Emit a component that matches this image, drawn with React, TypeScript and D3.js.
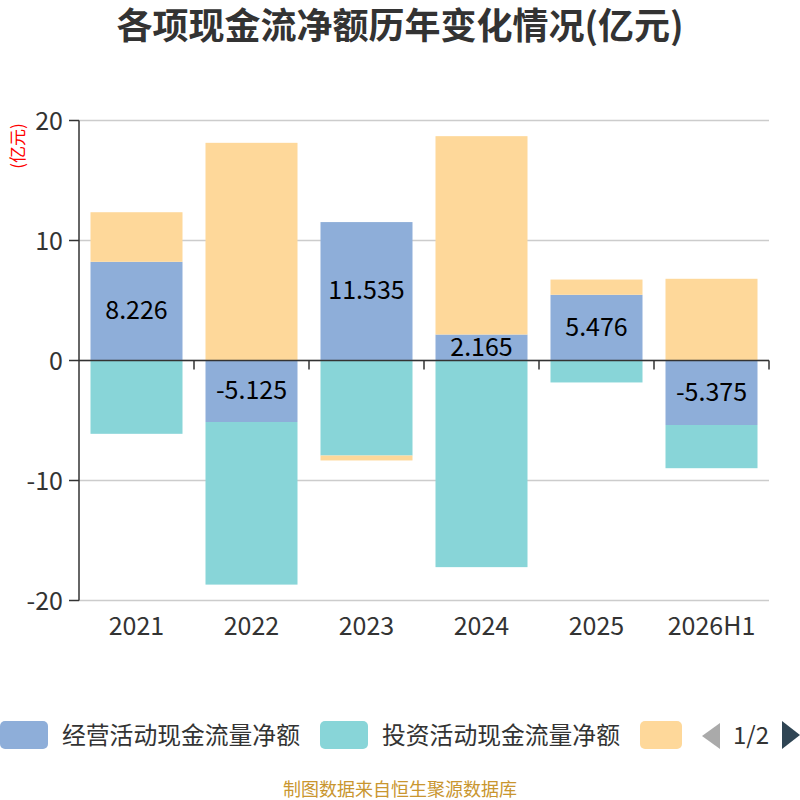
import React, { useEffect, useRef } from 'react';
import * as d3 from 'd3';

const categories = ['2021', '2022', '2023', '2024', '2025', '2026H1'];
const operating = [8.226, -5.125, 11.535, 2.165, 5.476, -5.375];
const investing = [-6.11, -13.55, -7.92, -17.22, -1.83, -3.6];
const financing = [4.13, 18.14, -0.41, 16.53, 1.27, 6.81];
const seriesNames = ['经营活动现金流量净额', '投资活动现金流量净额', '筹资活动现金流量净额'];
const yTicks = [-20, -10, 0, 10, 20];

const colors = ['#8eaed9', '#88d5d8', '#fed89a'];
const FONT = '"Noto Sans CJK SC", "Noto Sans", sans-serif';

export default function App() {
    const svgRef = useRef<SVGSVGElement>(null);

    useEffect(() => {
        if (!svgRef.current) return;
        const svg = d3.select(svgRef.current);
        svg.selectAll('*').remove();

        const left = 79, right = 769, top = 120.5, bottom = 600.5;

        const x = d3.scaleBand<string>()
            .domain(categories)
            .range([left, right])
            .paddingInner(0.2)
            .paddingOuter(0.1);

        const y = d3.scaleLinear().domain([-20, 20]).range([bottom, top]);

        const rows = categories.map((c, i) => ({
            cat: c,
            op: operating[i],
            inv: investing[i],
            fin: financing[i],
        }));

        // positive values stack upwards, negative downwards, like echarts
        const stacked = d3.stack<any>()
            .keys(['op', 'inv', 'fin'])
            .offset(d3.stackOffsetDiverging)(rows);

        // Title
        svg.append('text')
            .attr('x', 400)
            .attr('y', 26)
            .attr('dy', '0.36em')
            .attr('text-anchor', 'middle')
            .attr('font-size', 36)
            .attr('font-weight', 'bold')
            .attr('fill', '#333')
            .text('各项现金流净额历年变化情况(亿元)');

        // Unit label
        svg.append('text')
            .attr('transform', 'translate(18,146) rotate(-90)')
            .attr('text-anchor', 'middle')
            .attr('dy', '0.36em')
            .attr('font-size', 17)
            .attr('fill', '#ff0000')
            .text('(亿元)');

        // Grid lines
        svg.append('g')
            .selectAll('line')
            .data(yTicks)
            .join('line')
            .attr('x1', left)
            .attr('x2', right)
            .attr('y1', d => y(d))
            .attr('y2', d => y(d))
            .attr('stroke', '#cccccc')
            .attr('stroke-width', 1.5);

        // Bars
        stacked.forEach((layer, si) => {
            svg.append('g')
                .selectAll('rect')
                .data(layer)
                .join('rect')
                .attr('x', d => x(d.data.cat)!)
                .attr('width', x.bandwidth())
                .attr('y', d => y(Math.max(d[0], d[1])))
                .attr('height', d => Math.abs(y(d[0]) - y(d[1])))
                .attr('fill', colors[si]);
        });

        // Y axis
        const yAxis = svg.append('g');
        yAxis.append('line')
            .attr('x1', left).attr('x2', left)
            .attr('y1', top).attr('y2', bottom)
            .attr('stroke', '#333').attr('stroke-width', 1.5);
        yAxis.selectAll('.tick')
            .data(yTicks)
            .join('line')
            .attr('x1', left - 10).attr('x2', left)
            .attr('y1', d => y(d)).attr('y2', d => y(d))
            .attr('stroke', '#333').attr('stroke-width', 1.5);
        yAxis.selectAll('text')
            .data(yTicks)
            .join('text')
            .attr('x', 63)
            .attr('y', d => y(d))
            .attr('dy', '0.36em')
            .attr('text-anchor', 'end')
            .attr('font-size', 25)
            .attr('fill', '#333')
            .text(d => d);

        // X axis at zero, ticks on category boundaries
        const xAxis = svg.append('g');
        const boundaries = categories.map(c => x(c)! - x.step() * 0.1 + x.step());
        xAxis.append('line')
            .attr('x1', left).attr('x2', right)
            .attr('y1', y(0)).attr('y2', y(0))
            .attr('stroke', '#333').attr('stroke-width', 1.5);
        xAxis.selectAll('.xt')
            .data(boundaries)
            .join('line')
            .attr('x1', d => d).attr('x2', d => d)
            .attr('y1', y(0)).attr('y2', y(0) + 9)
            .attr('stroke', '#333').attr('stroke-width', 1.5);
        svg.append('g')
            .selectAll('text')
            .data(categories)
            .join('text')
            .attr('x', d => x(d)! + x.bandwidth() / 2)
            .attr('y', 635)
            .attr('text-anchor', 'middle')
            .attr('font-size', 25)
            .attr('fill', '#333')
            .text(d => d);

        // Data labels (operating)
        svg.append('g')
            .selectAll('text')
            .data(stacked[0])
            .join('text')
            .attr('x', d => x(d.data.cat)! + x.bandwidth() / 2)
            .attr('y', d => (y(d[0]) + y(d[1])) / 2)
            .attr('dy', '0.32em')
            .attr('text-anchor', 'middle')
            .attr('font-size', 25)
            .attr('fill', '#000')
            .text(d => d.data.op);

        // Legend
        const legend = svg.append('g');
        const legendX = [0, 320, 640];
        const legendW = [48, 48, 42];
        seriesNames.forEach((name, i) => {
            legend.append('rect')
                .attr('x', legendX[i])
                .attr('y', 721)
                .attr('width', legendW[i])
                .attr('height', 28)
                .attr('rx', 5)
                .attr('fill', colors[i]);
            if (i < 2) {
                legend.append('text')
                    .attr('x', legendX[i] + 62)
                    .attr('y', 735)
                    .attr('dy', '0.36em')
                    .attr('font-size', 23.8)
                    .attr('fill', '#333')
                    .text(name);
            }
        });
        // Pager
        legend.append('path')
            .attr('d', 'M702,736 L720,723 L720,749 Z')
            .attr('fill', '#aaaaaa');
        legend.append('text')
            .attr('x', 751)
            .attr('y', 735)
            .attr('dy', '0.36em')
            .attr('text-anchor', 'middle')
            .attr('font-size', 24)
            .attr('fill', '#333')
            .text('1/2');
        legend.append('path')
            .attr('d', 'M782,721 L800,735 L782,749 Z')
            .attr('fill', '#2f4554');

        // Footer
        svg.append('text')
            .attr('x', 400)
            .attr('y', 796)
            .attr('text-anchor', 'middle')
            .attr('font-size', 18)
            .attr('fill', '#c9962f')
            .text('制图数据来自恒生聚源数据库');
    }, []);

    return (
        <div style={{ position: 'absolute', left: 0, top: 0, width: 800, height: 800, background: '#fff' }}>
            <svg ref={svgRef} width={800} height={800} style={{ fontFamily: FONT, display: 'block' }} />
        </div>
    );
}
